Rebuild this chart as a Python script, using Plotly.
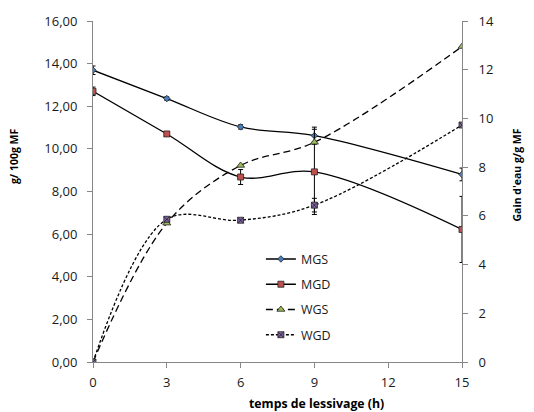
import plotly.graph_objects as go

hours = [0, 3, 6, 9, 15]
mgs = [13.69, 12.36, 11.03, 10.62, 8.80]
mgs_err = [0.2, 0.08, 0.1, 0.4, 0.3]
mgd = [12.70, 10.70, 8.68, 8.92, 6.22]
mgd_err = [0.2, 0.08, 0.35, 2.0, 1.55]
wgs = [0.0, 5.70, 8.07, 9.02, 12.95]
wgs_err = [0, 0, 0, 0, 0]
wgd = [0.0, 5.86, 5.82, 6.44, 9.73]
wgd_err = [0, 0, 0, 0.28, 0]

font = "Open Sans"

fig = go.Figure()

def add(name, y, err, axis, color, symbol, dash, size):
    fig.add_trace(go.Scatter(
        x=hours, y=y, name=name, yaxis=axis, mode="lines+markers",
        line=dict(color="black", width=1.3, shape="spline", smoothing=1.0, dash=dash),
        marker=dict(symbol=symbol, size=size, color=color, line=dict(color="#222222", width=0.8)),
        error_y=dict(type="data", array=err, color="black", thickness=1, width=2.5),
        legendgroup=name,
    ))

add("MGS", mgs, mgs_err, "y", "#4a7ebb", "diamond", "solid", 5)
add("MGD", mgd, mgd_err, "y", "#c0504d", "square", "solid", 6)
add("WGS", wgs, wgs_err, "y2", "#9bbb59", "triangle-up", "7px,4px", 7)
add("WGD", wgd, wgd_err, "y2", "#8064a2", "square-x", "3px,2px", 6)

axis_common = dict(showgrid=False, zeroline=False, showline=True, linecolor="#868686",
                   linewidth=1, ticks="outside", ticklen=5, tickcolor="#868686",
                   automargin=False,
                   tickfont=dict(family=font, size=13, color="#1a1a1a"))

title_font = dict(family=font, size=10.5, color="black")

fig.update_layout(
    width=534, height=412,
    margin=dict(l=85, r=80, t=13, b=58),
    paper_bgcolor="white", plot_bgcolor="white",
    separators=", ",
    showlegend=True,
    legend=dict(x=0.455, y=0.345, xanchor="left", yanchor="top", bgcolor="rgba(0,0,0,0)",
                font=dict(family=font, size=12.5, color="#1a1a1a"), tracegroupgap=6,
                itemwidth=30),
    xaxis=dict(range=[0, 15], tickvals=[0, 3, 6, 9, 12, 15], ticklabelstandoff=3,
               **axis_common),
    yaxis=dict(range=[0, 16], dtick=2, tickformat=".2f", ticklabelstandoff=7,
               **axis_common),
    yaxis2=dict(range=[0, 14], dtick=2, overlaying="y", side="right", tickformat="d",
                ticklabelstandoff=8, **axis_common),
    annotations=[
        dict(text="<b>temps de lessivage (h)</b>", xref="paper", yref="paper",
             x=0.607, y=-0.122, xanchor="center", yanchor="middle", showarrow=False,
             font=dict(family=font, size=12.3, color="black")),
        dict(text="<b>g/ 100g MF</b>", xref="paper", yref="paper", textangle=-90,
             x=-0.214, y=0.604, xanchor="center", yanchor="middle", showarrow=False, font=title_font),
        dict(text="<b>Gain d'eau g/g MF</b>", xref="paper", yref="paper", textangle=-90,
             x=1.15, y=0.548, xanchor="center", yanchor="middle", showarrow=False, font=title_font),
    ],
)

fig.write_html("out.html")
